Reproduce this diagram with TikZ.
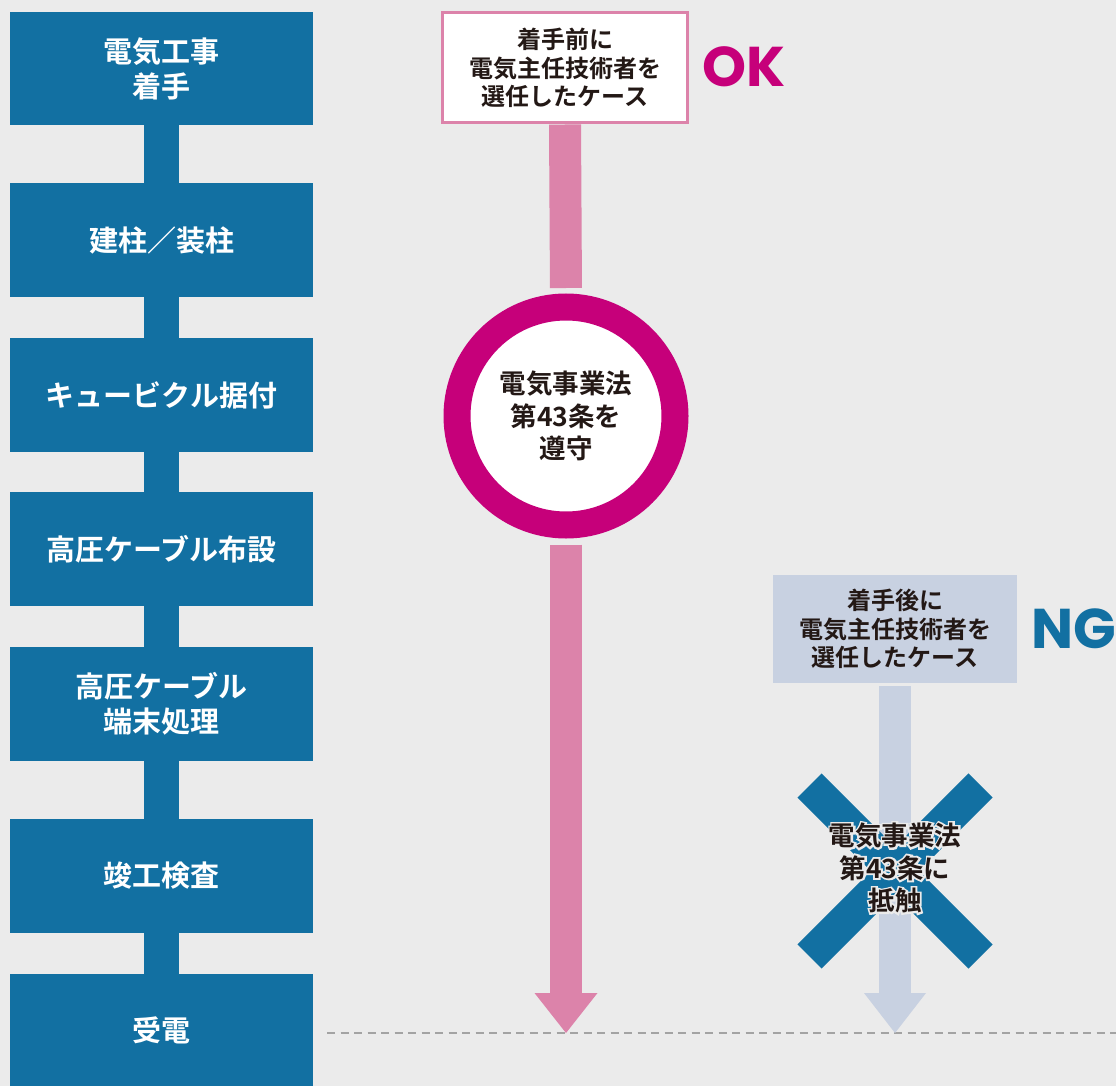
\documentclass[tikz,border=0pt]{standalone}
\usepackage{fontspec}
\usetikzlibrary{calc}
\newfontfamily\jp{Noto Sans CJK JP}[UprightFont=* Bold]
\newfontfamily\jphalo{Noto Sans CJK JP}[UprightFont=* Bold, FakeBold=14]
\newfontfamily\lat{Poppins}[UprightFont=* Bold]
\definecolor{bg}{HTML}{EBEBEB}
\definecolor{cblue}{HTML}{1270A2}
\definecolor{cmag}{HTML}{C6007A}
\definecolor{cpink}{HTML}{DC83AA}
\definecolor{cng}{HTML}{C8D1E1}
\definecolor{ctext}{HTML}{231815}
\definecolor{cdash}{HTML}{A3A3A3}
\tikzset{
  stepbox/.style={fill=cblue, text=white, minimum width=303pt, minimum height=114pt,
    inner sep=0pt, align=center, font=\jp\fontsize{29}{35}\selectfont},
  steplink/.style={line width=35pt, cblue},
  casebox/.style={minimum width=245pt, minimum height=110pt, inner sep=0pt, align=center,
    text=ctext, font=\jp\fontsize{24}{28.5}\selectfont},
  verdict/.style={font=\lat\fontsize{56}{60}\selectfont, inner sep=0pt},
  okbar/.style={line width=32pt, cpink},
  ngbar/.style={line width=32pt, cng},
  cross/.style={line width=34pt, cblue},
  lawtext/.style={align=center, text=ctext, inner sep=0pt, font=\jp\fontsize{26.5}{32.5}\selectfont},
  halotext/.style={lawtext, text=bg, font=\jphalo\fontsize{26.5}{32.5}\selectfont},
  dashline/.style={line width=2.5pt, cdash, dash pattern=on 8pt off 5.5pt}
}
\begin{document}
\begin{tikzpicture}[x=1pt,y=-1pt]
\fill[bg] (0,0) rectangle (1116,1086);
\useasboundingbox (0,0) rectangle (1116,1086);

% left process column
\node[stepbox, minimum height=113pt] (b1) at (161.5,68.5) {電気工事\\着手};
\node[stepbox] (b2) at (161.5,240) {建柱／装柱};
\node[stepbox] (b3) at (161.5,395) {キュービクル据付};
\node[stepbox] (b4) at (161.5,549) {高圧ケーブル布設};
\node[stepbox] (b5) at (161.5,704) {高圧ケーブル\\端末処理};
\node[stepbox] (b6) at (161.5,876) {竣工検査};
\node[stepbox, minimum height=112pt] (b7) at (161.5,1030) {受電};
\draw[steplink] (b1.south) -- (b2.north);
\draw[steplink] (b2.south) -- (b3.north);
\draw[steplink] (b3.south) -- (b4.north);
\draw[steplink] (b4.south) -- (b5.north);
\draw[steplink] (b5.south) -- (b6.north);
\draw[steplink] (b6.south) -- (b7.north);

% dashed line
\coordinate (dl) at (327,1033);
\coordinate (dr) at (1116,1033);
\draw[dashline] (dl) -- (dr);

% OK case
\node[casebox, fill=white, draw=cpink, line width=3pt] (okbox) at (565,68) {着手前に\\電気主任技術者を\\選任したケース};
\node[verdict, text=cmag, anchor=base west] (ok) at (702,87) {OK};
\node[circle, draw=cmag, fill=white, line width=27pt, minimum size=218pt, inner sep=0pt,
      lawtext] (ring) at (566,416) {電気事業法\\第43条を\\遵守};
\coordinate (oktip) at (566,1033);
\coordinate (okhead) at (566,993);
\draw[okbar, shorten >=5.5pt] (okbox.south) -- (ring.north);
\draw[okbar, shorten <=6pt] (ring.south) -- (okhead);
\fill[cpink] (oktip) -- ([xshift=-31.5pt]okhead) -- ([xshift=31.5pt]okhead) -- cycle;

% NG case
\node[casebox, fill=cng, minimum width=244pt, minimum height=108pt] (ngbox) at (895,629) {着手後に\\電気主任技術者を\\選任したケース};
\node[verdict, text=cblue, anchor=base west] (ng) at (1031,648) {NG};
\coordinate (ngtip) at (895,1033);
\coordinate (nghead) at (895,993);
\draw[ngbar, shorten <=3pt] (ngbox.south) -- (nghead);
\fill[cng] (ngtip) -- ([xshift=-31pt]nghead) -- ([xshift=31pt]nghead) -- cycle;

% cross
\coordinate (xc) at (895,871);
\draw[cross] ($(xc)+(-85.5,-85.5)$) -- ($(xc)+(85.5,85.5)$);
\draw[cross] ($(xc)+(85.5,-85.5)$) -- ($(xc)+(-85.5,85.5)$);
\node[halotext] (lawhalo) at (895,868) {電気事業法\\第43条に\\抵触};
\node[lawtext] (law) at (895,868) {電気事業法\\第43条に\\抵触};
\end{tikzpicture}
\end{document}
